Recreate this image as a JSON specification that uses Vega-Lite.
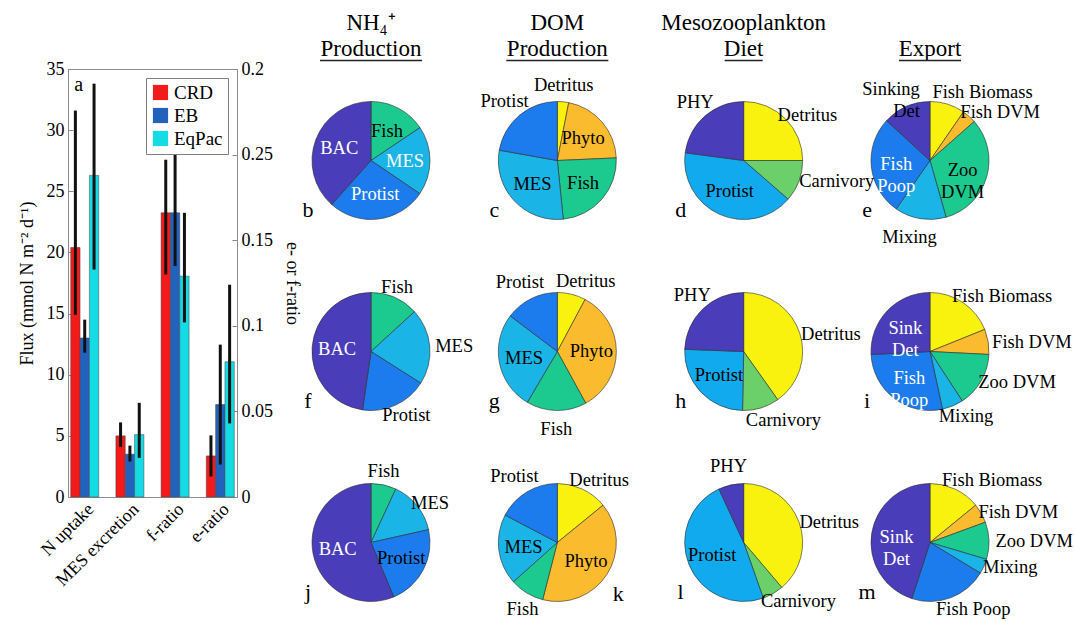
{
  "$schema": "https://vega.github.io/schema/vega-lite/v6.json",
  "padding": {"left": 17, "top": 11, "right": 0, "bottom": 0},
  "bounds": "flush",
  "spacing": 22,
  "config": {
    "font": "Liberation Serif, Times New Roman, serif",
    "view": {"stroke": null},
    "axis": {"labelFont": "Liberation Serif, Times New Roman, serif", "titleFont": "Liberation Serif, Times New Roman, serif", "labelColor": "#000", "titleColor": "#000", "titleFontWeight": "normal", "grid": false, "domainColor": "#8c8c8c", "tickColor": "#8c8c8c", "labelFontSize": 18, "titleFontSize": 18},
    "legend": {"labelFont": "Liberation Serif, Times New Roman, serif"},
    "text": {"font": "Liberation Serif, Times New Roman, serif"}
  },
  "resolve": {"scale": {"color": "independent"}},
  "datasets": {
    "bars": [
      {"cat": "N uptake", "s": "CRD", "unit": "flux", "v": 20.4, "lo": 14.9, "hi": 31.6},
      {"cat": "N uptake", "s": "EB", "unit": "flux", "v": 13.0, "lo": 11.8, "hi": 14.5},
      {"cat": "N uptake", "s": "EqPac", "unit": "flux", "v": 26.3, "lo": 18.6, "hi": 33.8},
      {"cat": "MES excretion", "s": "CRD", "unit": "flux", "v": 5.0, "lo": 4.1, "hi": 6.1},
      {"cat": "MES excretion", "s": "EB", "unit": "flux", "v": 3.5, "lo": 2.9, "hi": 4.2},
      {"cat": "MES excretion", "s": "EqPac", "unit": "flux", "v": 5.1, "lo": 3.2, "hi": 7.7},
      {"cat": "f-ratio", "s": "CRD", "unit": "ratio", "v": 0.166, "lo": 0.130, "hi": 0.197},
      {"cat": "f-ratio", "s": "EB", "unit": "ratio", "v": 0.166, "lo": 0.135, "hi": 0.200},
      {"cat": "f-ratio", "s": "EqPac", "unit": "ratio", "v": 0.129, "lo": 0.102, "hi": 0.166},
      {"cat": "e-ratio", "s": "CRD", "unit": "ratio", "v": 0.024, "lo": 0.012, "hi": 0.036},
      {"cat": "e-ratio", "s": "EB", "unit": "ratio", "v": 0.054, "lo": 0.019, "hi": 0.089},
      {"cat": "e-ratio", "s": "EqPac", "unit": "ratio", "v": 0.079, "lo": 0.043, "hi": 0.124}
    ],
    "slices": [
      {"pie": "b", "col": "NH4", "row": "CRD", "k": 1, "name": "Fish", "lbl": "Fish", "v": 15.6, "pos": "in", "tx": "k"},
      {"pie": "b", "col": "NH4", "row": "CRD", "k": 2, "name": "MES", "lbl": "MES", "v": 18.9, "pos": "in", "tx": "w"},
      {"pie": "b", "col": "NH4", "row": "CRD", "k": 3, "name": "Protist", "lbl": "Protist", "v": 27.1, "pos": "in", "tx": "w"},
      {"pie": "b", "col": "NH4", "row": "CRD", "k": 4, "name": "BAC", "lbl": "BAC", "v": 38.4, "pos": "in", "tx": "w"},
      {"pie": "c", "col": "DOM", "row": "CRD", "k": 1, "name": "Detritus", "lbl": "Detritus", "v": 3.1, "pos": "out"},
      {"pie": "c", "col": "DOM", "row": "CRD", "k": 2, "name": "Phyto", "lbl": "Phyto", "v": 21.2, "pos": "in", "tx": "k"},
      {"pie": "c", "col": "DOM", "row": "CRD", "k": 3, "name": "Fish", "lbl": "Fish", "v": 24.1, "pos": "in", "tx": "k"},
      {"pie": "c", "col": "DOM", "row": "CRD", "k": 4, "name": "MES", "lbl": "MES", "v": 29.4, "pos": "in", "tx": "k"},
      {"pie": "c", "col": "DOM", "row": "CRD", "k": 5, "name": "Protist", "lbl": "Protist", "v": 22.2, "pos": "out"},
      {"pie": "d", "col": "Diet", "row": "CRD", "k": 1, "name": "Detritus", "lbl": "Detritus", "v": 25.0, "pos": "out"},
      {"pie": "d", "col": "Diet", "row": "CRD", "k": 2, "name": "Carnivory", "lbl": "Carnivory", "v": 11.4, "pos": "out"},
      {"pie": "d", "col": "Diet", "row": "CRD", "k": 3, "name": "Protist", "lbl": "Protist", "v": 40.7, "pos": "in", "tx": "k"},
      {"pie": "d", "col": "Diet", "row": "CRD", "k": 4, "name": "PHY", "lbl": "PHY", "v": 22.9, "pos": "out"},
      {"pie": "e", "col": "Export", "row": "CRD", "k": 1, "name": "Fish Biomass", "lbl": "Fish Biomass", "v": 9.6, "pos": "out"},
      {"pie": "e", "col": "Export", "row": "CRD", "k": 2, "name": "Fish DVM", "lbl": "Fish DVM", "v": 3.9, "pos": "out"},
      {"pie": "e", "col": "Export", "row": "CRD", "k": 3, "name": "Zoo DVM", "lbl": "Zoo\nDVM", "v": 32.1, "pos": "in", "tx": "k"},
      {"pie": "e", "col": "Export", "row": "CRD", "k": 4, "name": "Mixing", "lbl": "Mixing", "v": 14.1, "pos": "out"},
      {"pie": "e", "col": "Export", "row": "CRD", "k": 5, "name": "Fish Poop", "lbl": "Fish\nPoop", "v": 27.1, "pos": "in", "tx": "w"},
      {"pie": "e", "col": "Export", "row": "CRD", "k": 6, "name": "Sinking Det", "lbl": "Sinking\nDet", "v": 13.2, "pos": "out"},
      {"pie": "f", "col": "NH4", "row": "EB", "k": 1, "name": "Fish", "lbl": "Fish", "v": 13.2, "pos": "out"},
      {"pie": "f", "col": "NH4", "row": "EB", "k": 2, "name": "MES", "lbl": "MES", "v": 20.8, "pos": "out"},
      {"pie": "f", "col": "NH4", "row": "EB", "k": 3, "name": "Protist", "lbl": "Protist", "v": 18.3, "pos": "out"},
      {"pie": "f", "col": "NH4", "row": "EB", "k": 4, "name": "BAC", "lbl": "BAC", "v": 47.7, "pos": "in", "tx": "w"},
      {"pie": "g", "col": "DOM", "row": "EB", "k": 1, "name": "Detritus", "lbl": "Detritus", "v": 7.8, "pos": "out"},
      {"pie": "g", "col": "DOM", "row": "EB", "k": 2, "name": "Phyto", "lbl": "Phyto", "v": 34.2, "pos": "in", "tx": "k"},
      {"pie": "g", "col": "DOM", "row": "EB", "k": 3, "name": "Fish", "lbl": "Fish", "v": 16.5, "pos": "out"},
      {"pie": "g", "col": "DOM", "row": "EB", "k": 4, "name": "MES", "lbl": "MES", "v": 26.8, "pos": "in", "tx": "k"},
      {"pie": "g", "col": "DOM", "row": "EB", "k": 5, "name": "Protist", "lbl": "Protist", "v": 14.7, "pos": "out"},
      {"pie": "h", "col": "Diet", "row": "EB", "k": 1, "name": "Detritus", "lbl": "Detritus", "v": 40.2, "pos": "out"},
      {"pie": "h", "col": "Diet", "row": "EB", "k": 2, "name": "Carnivory", "lbl": "Carnivory", "v": 10.1, "pos": "out"},
      {"pie": "h", "col": "Diet", "row": "EB", "k": 3, "name": "Protist", "lbl": "Protist", "v": 25.3, "pos": "in", "tx": "k"},
      {"pie": "h", "col": "Diet", "row": "EB", "k": 4, "name": "PHY", "lbl": "PHY", "v": 24.4, "pos": "out"},
      {"pie": "i", "col": "Export", "row": "EB", "k": 1, "name": "Fish Biomass", "lbl": "Fish Biomass", "v": 18.9, "pos": "out"},
      {"pie": "i", "col": "Export", "row": "EB", "k": 2, "name": "Fish DVM", "lbl": "Fish DVM", "v": 6.9, "pos": "out"},
      {"pie": "i", "col": "Export", "row": "EB", "k": 3, "name": "Zoo DVM", "lbl": "Zoo DVM", "v": 15.0, "pos": "out"},
      {"pie": "i", "col": "Export", "row": "EB", "k": 4, "name": "Mixing", "lbl": "Mixing", "v": 5.8, "pos": "out"},
      {"pie": "i", "col": "Export", "row": "EB", "k": 5, "name": "Fish Poop", "lbl": "Fish\nPoop", "v": 27.6, "pos": "in", "tx": "w"},
      {"pie": "i", "col": "Export", "row": "EB", "k": 6, "name": "Sink Det", "lbl": "Sink\nDet", "v": 25.8, "pos": "in", "tx": "w"},
      {"pie": "j", "col": "NH4", "row": "EqPac", "k": 1, "name": "Fish", "lbl": "Fish", "v": 6.9, "pos": "out"},
      {"pie": "j", "col": "NH4", "row": "EqPac", "k": 2, "name": "MES", "lbl": "MES", "v": 14.6, "pos": "out"},
      {"pie": "j", "col": "NH4", "row": "EqPac", "k": 3, "name": "Protist", "lbl": "Protist", "v": 22.2, "pos": "in", "tx": "k"},
      {"pie": "j", "col": "NH4", "row": "EqPac", "k": 4, "name": "BAC", "lbl": "BAC", "v": 56.3, "pos": "in", "tx": "w"},
      {"pie": "k", "col": "DOM", "row": "EqPac", "k": 1, "name": "Detritus", "lbl": "Detritus", "v": 14.1, "pos": "out"},
      {"pie": "k", "col": "DOM", "row": "EqPac", "k": 2, "name": "Phyto", "lbl": "Phyto", "v": 39.9, "pos": "in", "tx": "k"},
      {"pie": "k", "col": "DOM", "row": "EqPac", "k": 3, "name": "Fish", "lbl": "Fish", "v": 9.4, "pos": "out"},
      {"pie": "k", "col": "DOM", "row": "EqPac", "k": 4, "name": "MES", "lbl": "MES", "v": 19.3, "pos": "in", "tx": "k"},
      {"pie": "k", "col": "DOM", "row": "EqPac", "k": 5, "name": "Protist", "lbl": "Protist", "v": 17.3, "pos": "out"},
      {"pie": "l", "col": "Diet", "row": "EqPac", "k": 1, "name": "Detritus", "lbl": "Detritus", "v": 38.8, "pos": "out"},
      {"pie": "l", "col": "Diet", "row": "EqPac", "k": 2, "name": "Carnivory", "lbl": "Carnivory", "v": 5.8, "pos": "out"},
      {"pie": "l", "col": "Diet", "row": "EqPac", "k": 3, "name": "Protist", "lbl": "Protist", "v": 48.5, "pos": "in", "tx": "k"},
      {"pie": "l", "col": "Diet", "row": "EqPac", "k": 4, "name": "PHY", "lbl": "PHY", "v": 6.9, "pos": "out"},
      {"pie": "m", "col": "Export", "row": "EqPac", "k": 1, "name": "Fish Biomass", "lbl": "Fish Biomass", "v": 14.1, "pos": "out"},
      {"pie": "m", "col": "Export", "row": "EqPac", "k": 2, "name": "Fish DVM", "lbl": "Fish DVM", "v": 5.3, "pos": "out"},
      {"pie": "m", "col": "Export", "row": "EqPac", "k": 3, "name": "Zoo DVM", "lbl": "Zoo DVM", "v": 10.2, "pos": "out"},
      {"pie": "m", "col": "Export", "row": "EqPac", "k": 4, "name": "Mixing", "lbl": "Mixing", "v": 4.1, "pos": "out"},
      {"pie": "m", "col": "Export", "row": "EqPac", "k": 5, "name": "Fish Poop", "lbl": "Fish Poop", "v": 21.3, "pos": "out"},
      {"pie": "m", "col": "Export", "row": "EqPac", "k": 6, "name": "Sink Det", "lbl": "Sink\nDet", "v": 45.0, "pos": "in", "tx": "w"}
    ],
    "letters": [
      {"pie": "b", "col": "NH4", "row": "CRD", "side": "L"},
      {"pie": "c", "col": "DOM", "row": "CRD", "side": "L"},
      {"pie": "d", "col": "Diet", "row": "CRD", "side": "L"},
      {"pie": "e", "col": "Export", "row": "CRD", "side": "L"},
      {"pie": "f", "col": "NH4", "row": "EB", "side": "L"},
      {"pie": "g", "col": "DOM", "row": "EB", "side": "L"},
      {"pie": "h", "col": "Diet", "row": "EB", "side": "L"},
      {"pie": "i", "col": "Export", "row": "EB", "side": "L"},
      {"pie": "j", "col": "NH4", "row": "EqPac", "side": "L"},
      {"pie": "k", "col": "DOM", "row": "EqPac", "side": "R"},
      {"pie": "l", "col": "Diet", "row": "EqPac", "side": "L"},
      {"pie": "m", "col": "Export", "row": "EqPac", "side": "L"}
    ],
    "heads": [
      {"col": "NH4", "row": "CRD", "l1": "NH₄⁺", "l2": "Production"},
      {"col": "DOM", "row": "CRD", "l1": "DOM", "l2": "Production"},
      {"col": "Diet", "row": "CRD", "l1": "Mesozooplankton", "l2": "Diet"},
      {"col": "Export", "row": "CRD", "l1": "", "l2": "Export"}
    ]
  },
  "hconcat": [
    {
      "width": 169,
      "height": 428,
      "view": {"stroke": "#8c8c8c"},
      "data": {"name": "bars"},
      "layer": [
        {
          "transform": [{"filter": "datum.unit == 'flux'"}],
          "layer": [
            {
              "mark": {"type": "bar", "stroke": "#444", "strokeWidth": 0.5},
              "encoding": {
                "x": {"field": "cat", "type": "nominal", "sort": null, "scale": {"domain": ["N uptake", "MES excretion", "f-ratio", "e-ratio"], "paddingInner": 0.38, "paddingOuter": 0.06}, "axis": {"title": null, "labelAngle": -45, "labelFontSize": 18, "tickSize": -5, "labelPadding": 8}},
                "xOffset": {"field": "s", "type": "nominal", "scale": {"domain": ["CRD", "EB", "EqPac"], "paddingInner": 0, "paddingOuter": 0}},
                "y": {"field": "v", "type": "quantitative", "scale": {"domain": [0, 35], "nice": false}, "axis": {"title": "Flux (mmol N m⁻² d⁻¹)", "values": [0, 5, 10, 15, 20, 25, 30, 35], "tickSize": -5, "labelPadding": 9, "titlePadding": 10}},
                "color": {"field": "s", "type": "nominal", "scale": {"domain": ["CRD", "EB", "EqPac"], "range": ["#f21a1a", "#2262bd", "#14dbe4"]}, "legend": {"title": null, "orient": "top-right", "offset": 9, "labelFontSize": 19, "symbolType": "square", "symbolSize": 230, "symbolStrokeWidth": 0, "strokeColor": "#808080", "fillColor": "#ffffff", "padding": 5, "rowPadding": 3, "labelOffset": 4}}
              }
            },
            {
              "mark": {"type": "rule", "strokeWidth": 3, "color": "#111"},
              "encoding": {
                "x": {"field": "cat", "type": "nominal"},
                "xOffset": {"field": "s", "type": "nominal"},
                "y": {"field": "lo", "type": "quantitative"},
                "y2": {"field": "hi"}
              }
            }
          ]
        },
        {
          "transform": [{"filter": "datum.unit == 'ratio'"}],
          "layer": [
            {
              "mark": {"type": "bar", "stroke": "#444", "strokeWidth": 0.5},
              "encoding": {
                "x": {"field": "cat", "type": "nominal"},
                "xOffset": {"field": "s", "type": "nominal"},
                "y": {"field": "v", "type": "quantitative", "scale": {"domain": [0, 0.25], "nice": false}, "axis": {"orient": "right", "title": "e- or f-ratio", "values": [0, 0.05, 0.1, 0.15, 0.2, 0.25], "format": "~g", "labelExpr": "datum.value == 0.25 ? '0.2' : (datum.value == 0.2 ? '0.25' : datum.label)", "tickSize": -5, "labelPadding": 9, "titlePadding": 10}},
                "color": {"field": "s", "type": "nominal"}
              }
            },
            {
              "mark": {"type": "rule", "strokeWidth": 3, "color": "#111"},
              "encoding": {
                "x": {"field": "cat", "type": "nominal"},
                "xOffset": {"field": "s", "type": "nominal"},
                "y": {"field": "lo", "type": "quantitative"},
                "y2": {"field": "hi"}
              }
            }
          ]
        },
        {
          "data": {"values": [{"t": "a"}]},
          "mark": {"type": "text", "fontSize": 20, "dx": -6, "color": "#000"},
          "encoding": {
            "x": {"datum": "N uptake", "type": "nominal"},
            "y": {"datum": 33.7, "type": "quantitative", "scale": {"domain": [0, 35], "nice": false}, "axis": null},
            "text": {"field": "t"}
          }
        }
      ],
      "resolve": {"scale": {"y": "independent"}}
    },
    {
      "width": 700,
      "height": 540,
      "view": {"stroke": null},
      "encoding": {
        "x": {"field": "col", "type": "nominal", "scale": {"type": "point", "domain": ["NH4", "DOM", "Diet", "Export"], "range": [112, 671], "padding": 0}, "axis": null},
        "y": {"field": "row", "type": "nominal", "scale": {"type": "point", "domain": ["CRD", "EB", "EqPac"], "range": [91.5, 473.5], "padding": 0}, "axis": null}
      },
      "layer": [
        {
          "data": {"name": "slices"},
          "transform": [
            {"stack": "v", "groupby": ["pie"], "sort": [{"field": "k"}], "offset": "normalize", "as": ["v0", "v1"]},
            {"calculate": "datum.col == 'Diet' && datum.name == 'Protist' ? 'Protist (diet)' : datum.name", "as": "key"}
          ],
          "mark": {"type": "arc", "outerRadius": 59, "stroke": "#2b2b2b", "strokeWidth": 0.6},
          "encoding": {
            "theta": {"field": "v0", "type": "quantitative", "scale": {"domain": [0, 1], "range": [0, 6.283185307]}},
            "theta2": {"field": "v1"},
            "color": {"field": "key", "type": "nominal", "legend": null, "scale": {
              "domain": ["BAC", "PHY", "Sinking Det", "Sink Det", "Protist", "Fish Poop", "MES", "Mixing", "Protist (diet)", "Fish", "Zoo DVM", "Carnivory", "Phyto", "Fish DVM", "Detritus", "Fish Biomass"],
              "range": ["#4a3db9", "#4a3db9", "#4a3db9", "#4a3db9", "#1c7cee", "#1c7cee", "#1ab4e6", "#1ab4e6", "#12aaee", "#1cc98f", "#1cc98f", "#6bd06a", "#fbbb2e", "#fbbb2e", "#f9f20f", "#f9f20f"]}}
          }
        },
        {
          "data": {"name": "slices"},
          "transform": [
            {"stack": "v", "groupby": ["pie"], "sort": [{"field": "k"}], "offset": "normalize", "as": ["v0", "v1"]},
            {"calculate": "(datum.v0 + datum.v1) / 2", "as": "mid"},
            {"filter": "datum.pos == 'in'"}
          ],
          "layer": [
            {
              "transform": [{"filter": "datum.tx == 'w'"}],
              "mark": {"type": "text", "radius": 34, "fontSize": 18.5, "color": "#ffffff", "lineBreak": "\n", "lineHeight": 22, "align": "center", "baseline": "middle"},
              "encoding": {"theta": {"field": "mid", "type": "quantitative"}, "text": {"field": "lbl"}}
            },
            {
              "transform": [{"filter": "datum.tx == 'k'"}],
              "mark": {"type": "text", "radius": 34, "fontSize": 18.5, "color": "#000000", "lineBreak": "\n", "lineHeight": 22, "align": "center", "baseline": "middle"},
              "encoding": {"theta": {"field": "mid", "type": "quantitative"}, "text": {"field": "lbl"}}
            }
          ]
        },
        {
          "data": {"name": "slices"},
          "transform": [
            {"stack": "v", "groupby": ["pie"], "sort": [{"field": "k"}], "offset": "normalize", "as": ["v0", "v1"]},
            {"calculate": "(datum.v0 + datum.v1) / 2", "as": "mid"},
            {"filter": "datum.pos == 'out'"},
            {"calculate": "sin(datum.mid * 2 * PI)", "as": "sn"},
            {"calculate": "cos(datum.mid * 2 * PI)", "as": "cs"},
            {"calculate": "abs(datum.sn) < 0.15 ? 66 * datum.sn : 66 * datum.sn - (datum.sn > 0 ? 1 : -1) * 18 * abs(datum.cs)", "as": "ax"},
            {"calculate": "-(78 - 20 * max(datum.sn, 0)) * datum.cs", "as": "ay"},
            {"calculate": "sqrt(datum.ax * datum.ax + datum.ay * datum.ay)", "as": "tr"},
            {"calculate": "(atan2(datum.ax, -datum.ay) / (2 * PI) + 1) % 1", "as": "tt"}
          ],
          "layer": [
            {
              "transform": [{"filter": "datum.sn >= 0.15"}],
              "mark": {"type": "text", "fontSize": 18.5, "color": "#000", "lineBreak": "\n", "lineHeight": 22, "align": "left", "baseline": "middle"},
              "encoding": {"theta": {"field": "tt", "type": "quantitative"}, "radius": {"field": "tr", "type": "quantitative", "scale": {"type": "linear", "domain": [0, 100], "range": [0, 100]}}, "text": {"field": "lbl"}}
            },
            {
              "transform": [{"filter": "datum.sn <= -0.15"}],
              "mark": {"type": "text", "fontSize": 18.5, "color": "#000", "lineBreak": "\n", "lineHeight": 22, "align": "right", "baseline": "middle"},
              "encoding": {"theta": {"field": "tt", "type": "quantitative"}, "radius": {"field": "tr", "type": "quantitative"}, "text": {"field": "lbl"}}
            },
            {
              "transform": [{"filter": "abs(datum.sn) < 0.15"}],
              "mark": {"type": "text", "fontSize": 18.5, "color": "#000", "lineBreak": "\n", "lineHeight": 22, "align": "center", "baseline": "middle"},
              "encoding": {"theta": {"field": "tt", "type": "quantitative"}, "radius": {"field": "tr", "type": "quantitative"}, "text": {"field": "lbl"}}
            }
          ]
        },
        {
          "data": {"name": "letters"},
          "transform": [{"filter": "datum.side == 'L'"}],
          "mark": {"type": "text", "fontSize": 22, "color": "#000", "dx": -63, "dy": 49},
          "encoding": {"text": {"field": "pie"}}
        },
        {
          "data": {"name": "letters"},
          "transform": [{"filter": "datum.side == 'R'"}],
          "mark": {"type": "text", "fontSize": 22, "color": "#000", "dx": 61, "dy": 51},
          "encoding": {"text": {"field": "pie"}}
        },
        {
          "data": {"name": "heads"},
          "mark": {"type": "text", "fontSize": 23, "color": "#000", "dy": -138},
          "encoding": {"text": {"field": "l1"}}
        },
        {
          "data": {"name": "heads"},
          "mark": {"type": "text", "fontSize": 23, "color": "#000", "dy": -112},
          "encoding": {"text": {"field": "l2"}}
        },
        {
          "data": {"name": "heads"},
          "transform": [{"filter": "datum.l2 == 'Production'"}],
          "mark": {"type": "rule", "color": "#222", "strokeWidth": 1.3, "xOffset": -51, "x2Offset": 51, "yOffset": -100},
          "encoding": {"x2": {"field": "col"}}
        },
        {
          "data": {"name": "heads"},
          "transform": [{"filter": "datum.l2 == 'Diet'"}],
          "mark": {"type": "rule", "color": "#222", "strokeWidth": 1.3, "xOffset": -19, "x2Offset": 19, "yOffset": -100},
          "encoding": {"x2": {"field": "col"}}
        },
        {
          "data": {"name": "heads"},
          "transform": [{"filter": "datum.l2 == 'Export'"}],
          "mark": {"type": "rule", "color": "#222", "strokeWidth": 1.3, "xOffset": -31, "x2Offset": 31, "yOffset": -100},
          "encoding": {"x2": {"field": "col"}}
        }
      ]
    }
  ]
}
